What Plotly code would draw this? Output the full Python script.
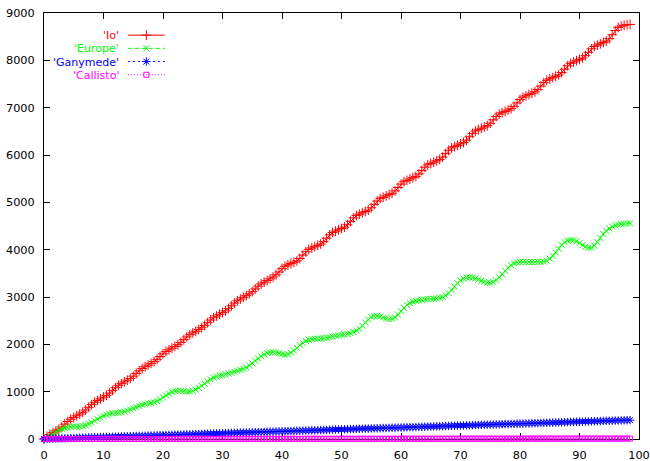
import plotly.graph_objects as go

# Sampling grid: one value every half unit, 0 .. 98.5
x = [i * 0.5 for i in range(198)]

io = [
    0, 55, 98, 134, 170, 207, 255, 313,
    370, 418, 455, 491, 527, 564, 612, 670,
    727, 775, 812, 848, 884, 921, 969, 1027,
    1085, 1133, 1170, 1206, 1242, 1279, 1327, 1385,
    1442, 1490, 1527, 1563, 1599, 1636, 1684, 1742,
    1799, 1847, 1884, 1920, 1956, 1993, 2041, 2099,
    2156, 2204, 2241, 2277, 2313, 2350, 2398, 2456,
    2513, 2561, 2598, 2634, 2670, 2707, 2755, 2813,
    2871, 2919, 2956, 2992, 3028, 3065, 3113, 3171,
    3228, 3276, 3313, 3349, 3385, 3422, 3470, 3528,
    3599, 3649, 3678, 3706, 3734, 3763, 3813, 3885,
    3956, 4006, 4035, 4063, 4091, 4120, 4170, 4242,
    4313, 4363, 4392, 4420, 4448, 4477, 4527, 4599,
    4671, 4721, 4750, 4778, 4806, 4835, 4885, 4957,
    5028, 5078, 5107, 5135, 5163, 5192, 5242, 5314,
    5385, 5435, 5464, 5492, 5520, 5549, 5599, 5671,
    5742, 5792, 5821, 5849, 5877, 5906, 5956, 6028,
    6099, 6149, 6178, 6206, 6234, 6263, 6313, 6385,
    6457, 6507, 6536, 6564, 6592, 6621, 6671, 6743,
    6814, 6864, 6893, 6921, 6949, 6978, 7028, 7100,
    7171, 7221, 7250, 7278, 7306, 7335, 7385, 7457,
    7528, 7578, 7607, 7635, 7663, 7692, 7742, 7814,
    7885, 7935, 7964, 7992, 8020, 8049, 8099, 8171,
    8243, 8293, 8322, 8350, 8378, 8407, 8457, 8540,
    8630, 8695, 8725, 8742, 8752, 8758,
]

europe = [
    0, 25, 60, 105, 150, 185, 210, 230, 245, 255,
    260, 262, 265, 275, 290, 318, 350, 385, 420, 458,
    490, 512, 530, 542, 550, 556, 565, 580, 600, 624,
    650, 676, 700, 722, 740, 750, 760, 776, 800, 838,
    880, 922, 960, 990, 1010, 1018, 1020, 1008, 1000, 1006,
    1020, 1046, 1080, 1124, 1170, 1216, 1260, 1292, 1320, 1338,
    1350, 1364, 1380, 1398, 1420, 1438, 1460, 1482, 1510, 1550,
    1600, 1652, 1700, 1748, 1790, 1815, 1830, 1834, 1830, 1812,
    1790, 1782, 1790, 1824, 1870, 1926, 1980, 2030, 2070, 2094,
    2110, 2116, 2120, 2124, 2130, 2138, 2150, 2166, 2180, 2190,
    2200, 2208, 2220, 2236, 2260, 2290, 2330, 2390, 2460, 2526,
    2580, 2596, 2600, 2588, 2570, 2546, 2530, 2540, 2570, 2628,
    2700, 2768, 2830, 2872, 2900, 2918, 2930, 2942, 2950, 2956,
    2960, 2964, 2970, 2982, 3000, 3034, 3080, 3148, 3220, 3290,
    3350, 3390, 3410, 3414, 3410, 3394, 3370, 3344, 3320, 3304,
    3300, 3318, 3360, 3414, 3480, 3552, 3620, 3672, 3710, 3730,
    3740, 3742, 3740, 3738, 3740, 3738, 3740, 3744, 3750, 3770,
    3810, 3868, 3940, 4022, 4100, 4156, 4190, 4204, 4200, 4176,
    4140, 4098, 4060, 4040, 4040, 4084, 4160, 4248, 4330, 4398,
    4450, 4486, 4510, 4528, 4540, 4548, 4550, 4556,
]

ganymede = [
    0, 2, 4, 6, 8, 10, 12, 14, 16, 18,
    20, 22, 25, 27, 29, 31, 33, 35, 37, 39,
    41, 43, 45, 47, 49, 51, 53, 55, 57, 59,
    61, 63, 65, 67, 69, 71, 73, 75, 77, 79,
    81, 83, 85, 87, 89, 91, 93, 95, 97, 99,
    101, 103, 105, 107, 109, 111, 113, 115, 117, 120,
    122, 124, 126, 128, 130, 132, 134, 136, 138, 140,
    142, 144, 146, 148, 150, 152, 154, 156, 158, 160,
    162, 164, 166, 168, 170, 172, 174, 176, 178, 180,
    182, 184, 186, 188, 190, 192, 194, 197, 199, 201,
    203, 205, 207, 209, 211, 213, 215, 217, 219, 221,
    223, 225, 227, 229, 231, 233, 235, 237, 239, 241,
    243, 245, 247, 249, 251, 253, 255, 257, 259, 261,
    263, 265, 267, 269, 271, 274, 276, 278, 280, 282,
    284, 286, 288, 290, 292, 294, 296, 298, 300, 302,
    304, 306, 308, 310, 312, 314, 316, 318, 320, 322,
    324, 326, 328, 330, 332, 334, 336, 338, 340, 342,
    344, 346, 348, 351, 353, 355, 357, 359, 361, 363,
    365, 367, 369, 371, 373, 375, 377, 379, 381, 383,
    385, 387, 389, 391, 393, 395, 397, 399,
]

callisto = [
    0, 0, 0, 0, 0, 0, 0, 0, 0, 0,
    0, 0, 0, 0, 0, 0, 0, 0, 0, 0,
    1, 1, 1, 1, 1, 1, 1, 1, 1, 1,
    1, 1, 1, 1, 1, 1, 1, 1, 1, 1,
    2, 2, 2, 2, 2, 2, 2, 2, 2, 2,
    2, 2, 2, 2, 2, 2, 2, 2, 2, 2,
    3, 3, 3, 3, 3, 3, 3, 3, 3, 3,
    3, 3, 3, 3, 3, 3, 3, 3, 3, 3,
    4, 4, 4, 4, 4, 4, 4, 4, 4, 4,
    4, 4, 4, 4, 4, 4, 4, 4, 4, 4,
    5, 5, 5, 5, 5, 5, 5, 5, 5, 5,
    5, 5, 5, 5, 5, 5, 5, 5, 5, 5,
    6, 6, 6, 6, 6, 6, 6, 6, 6, 6,
    6, 6, 6, 6, 6, 6, 6, 6, 6, 6,
    7, 7, 7, 7, 7, 7, 7, 7, 7, 7,
    7, 7, 7, 7, 7, 7, 7, 7, 7, 7,
    8, 8, 8, 8, 8, 8, 8, 8, 8, 8,
    8, 8, 8, 8, 8, 8, 8, 8, 8, 8,
    9, 9, 9, 9, 9, 9, 9, 9, 9, 9,
    9, 9, 9, 9, 9, 9, 9, 9,
]

names = ["'Io'", "'Europe'", "'Ganymede'", "'Callisto'"]
colors = ["#ff0000", "#00ff00", "#0000ff", "#ff00ff"]
symbols = ["cross-thin", "x-thin", "asterisk", "square-open"]
msizes = [7, 6, 7, 5]
dashes = ["solid", "4px,3px", "2px,3px", "1px,2px"]
series = [io, europe, ganymede, callisto]

FONT = "DejaVu Sans, Liberation Sans, Arial, sans-serif"

fig = go.Figure()

for name, ys, col, sym, ms, dash in zip(names, series, colors, symbols, msizes, dashes):
    fig.add_trace(go.Scatter(
        x=x, y=ys, mode="lines+markers", name=name, showlegend=False,
        line=dict(color=col, width=1, dash=dash),
        marker=dict(symbol=sym, size=ms, color=col,
                    line=dict(color=col, width=1)),
        cliponaxis=False,
    ))

# gnuplot-style key in the top-left corner: right-aligned titles, sample to the right
key_y = [0.948, 0.917, 0.886, 0.855]
key_text_x = 0.128
key_line = [0.141, 0.203]
key_mark = 0.172
for name, ky, col, sym, ms, dash in zip(names, key_y, colors, symbols, msizes, dashes):
    fig.add_annotation(
        x=key_text_x, y=ky, xref="paper", yref="paper", text=name,
        showarrow=False, xanchor="right", yanchor="middle",
        borderpad=0, height=12,
        font=dict(family=FONT, size=11, color=col),
    )
    fig.add_trace(go.Scatter(
        x=key_line, y=[ky, ky], xaxis="x2", yaxis="y2", mode="lines",
        line=dict(color=col, width=1, dash=dash), showlegend=False,
        hoverinfo="skip",
    ))
    fig.add_trace(go.Scatter(
        x=[key_mark], y=[ky], xaxis="x2", yaxis="y2", mode="markers",
        marker=dict(symbol=sym, size=ms, color=col, line=dict(color=col, width=1)),
        showlegend=False, hoverinfo="skip",
    ))

axis_common = dict(
    showgrid=False, zeroline=False, showline=True, linecolor="black",
    linewidth=1, mirror="ticks", ticks="inside", ticklen=6, tickcolor="black",
    tickwidth=1, layer="below traces", automargin=False,
    tickfont=dict(family=FONT, size=11.3, color="black"),
)

fig.update_layout(
    width=650, height=461,
    margin=dict(l=44, r=11, t=13, b=22),
    paper_bgcolor="white", plot_bgcolor="white",
    xaxis=dict(range=[0, 100], dtick=10, tick0=0, ticklabelstandoff=5, **axis_common),
    yaxis=dict(range=[0, 9000], dtick=1000, tick0=0, ticklabelstandoff=6, **axis_common),
    xaxis2=dict(range=[0, 1], overlaying="x", visible=False, fixedrange=True),
    yaxis2=dict(range=[0, 1], overlaying="y", visible=False, fixedrange=True),
    showlegend=False,
)

fig.write_html("out.html")
